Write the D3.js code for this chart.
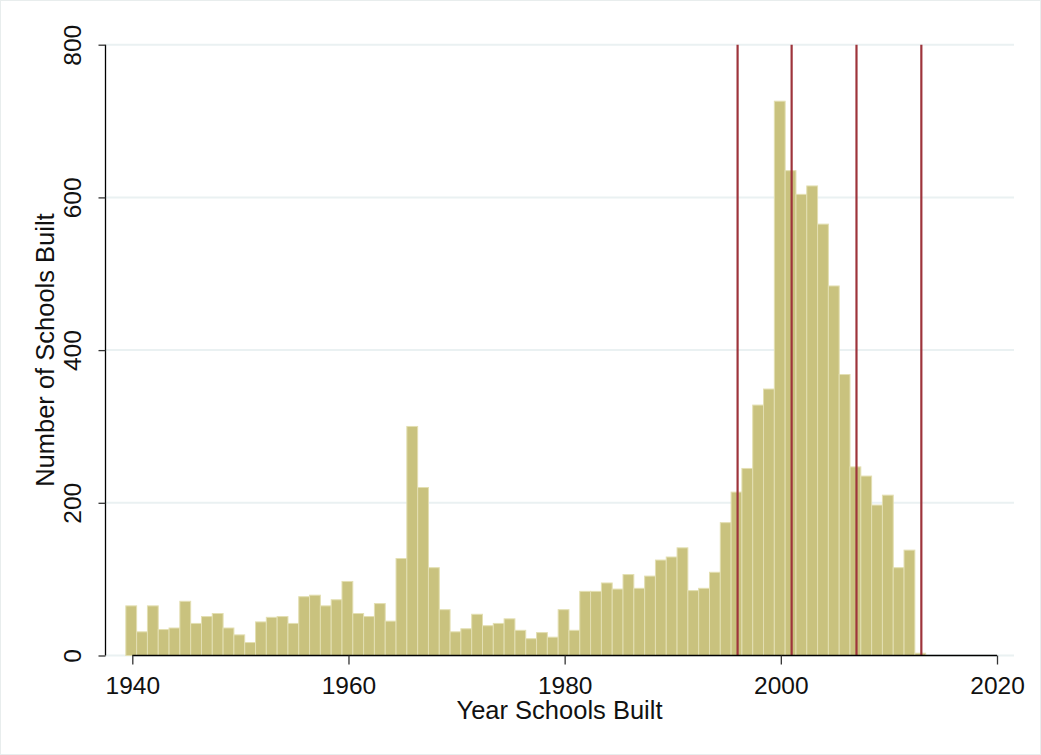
<!DOCTYPE html>
<html><head><meta charset="utf-8">
<script src="https://cdn.jsdelivr.net/npm/d3@7"></script>
<style>html,body{margin:0;padding:0;background:#fff;}svg{display:block;font-family:"Liberation Sans",Arial,sans-serif;}</style>
</head><body>
<svg id="c" width="1041" height="755"></svg>
<script>
const years = d3.range(1940, 2014);
const counts = [65,31,65,34,36,71,42,51,55,36,27,17,44,50,51,42,77,79,65,73,
  97,55,51,68,45,127,300,220,115,60,31,35,54,39,42,48,33,22,30,24,
  60,33,84,84,95,87,106,88,104,125,129,141,85,88,109,174,214,245,328,349,
  726,635,604,615,565,484,368,247,235,197,210,115,138,3];
const markerYears = [1996, 2001, 2007, 2013];
const xTicks = [1940, 1960, 1980, 2000, 2020];
const yTicks = [0, 200, 400, 600, 800];
const xTitle = "Year Schools Built";
const yTitle = "Number of Schools Built";

const svg = d3.select("#c");
svg.append("rect").attr("x",0.5).attr("y",0.5).attr("width",1040).attr("height",754)
  .attr("fill","#fff").attr("stroke","#e8eded");

const x = d3.scaleLinear().domain([1940, 2020]).range([132.3, 997]);
const y = d3.scaleLinear().domain([0, 800]).range([655.5, 44.7]);
const axisX = 105.5, gridRight = 1014;

// gridlines
svg.append("g").selectAll("line").data(yTicks).join("line")
  .attr("x1", axisX).attr("x2", gridRight)
  .attr("y1", d => y(d)).attr("y2", d => y(d))
  .attr("stroke", "#eaf1f2").attr("stroke-width", 2);

// bars
svg.append("g").selectAll("rect").data(years.map((yr,i)=>({yr, v:counts[i]}))).join("rect")
  .attr("x", d => x(d.yr - 0.6))
  .attr("width", d => x(d.yr + 0.4) - x(d.yr - 0.6))
  .attr("y", d => y(d.v))
  .attr("height", d => y(0) - y(d.v))
  .attr("fill", "#c9c27e").attr("stroke", "#e3dfb2").attr("stroke-width", 1);

// marker lines
svg.append("g").selectAll("line").data(markerYears).join("line")
  .attr("x1", d => x(d)).attr("x2", d => x(d))
  .attr("y1", y(800)).attr("y2", y(0))
  .attr("stroke", "#9e343b").attr("stroke-width", 2.2);

// y axis
const ya = svg.append("g").attr("transform", `translate(${axisX},0)`)
  .call(d3.axisLeft(y).tickValues(yTicks).tickSize(7).tickPadding(0).tickFormat(d3.format("d")));
ya.select(".domain").attr("stroke","#000").attr("stroke-width",1.3).attr("d", `M0,${y(0)}V${y(800)}`);
ya.selectAll(".tick line").attr("stroke","#333").attr("stroke-width",1.3);
ya.selectAll(".tick text").attr("transform", null)
  .attr("x", 0).attr("y", 0).attr("dy", null)
  .attr("text-anchor","middle")
  .attr("transform", function(){ const t = d3.select(this.parentNode).attr("transform"); return `translate(${-25},0) rotate(-90)`; })
  .attr("font-size", 24.5).attr("fill", "#111").style("font-family", '"Liberation Sans",Arial,sans-serif');

// x axis
const xa = svg.append("g").attr("transform", `translate(0,${y(0)})`)
  .call(d3.axisBottom(x).tickValues(xTicks).tickSize(9).tickPadding(4).tickFormat(d3.format("d")));
xa.select(".domain").attr("stroke","#000").attr("stroke-width",1.3).attr("d", `M${x(1940)},0H${x(2020)}`);
xa.selectAll(".tick line").attr("stroke","#333").attr("stroke-width",1.3);
xa.selectAll(".tick text").attr("dy", null).attr("y", 38)
  .attr("font-size", 24.5).attr("fill", "#111").style("font-family", '"Liberation Sans",Arial,sans-serif');

// titles
svg.append("text").attr("x", 559.5).attr("y", 719).attr("text-anchor","middle")
  .attr("font-size", 25.5).attr("fill","#111").text(xTitle);
svg.append("text").attr("transform", `translate(54,${(y(0)+y(800))/2}) rotate(-90)`)
  .attr("text-anchor","middle").attr("font-size", 25.5).attr("fill","#111").text(yTitle);
</script>
</body></html>
